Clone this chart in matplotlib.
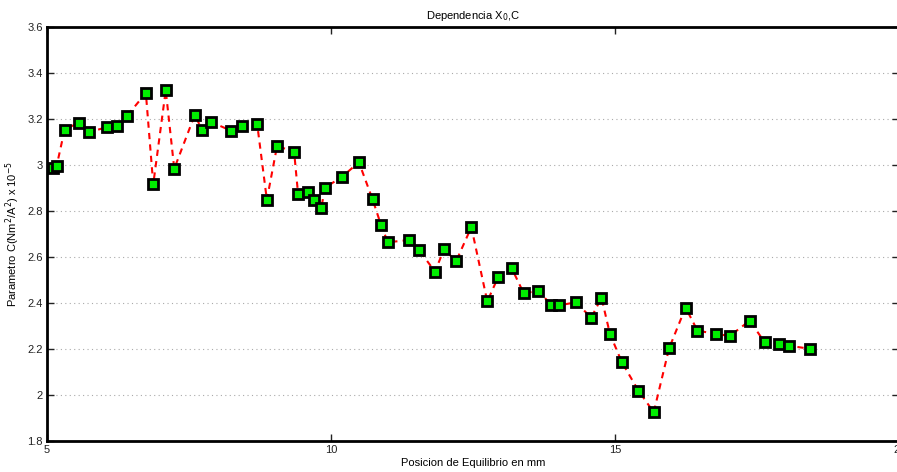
import numpy as np
import matplotlib
matplotlib.use("Agg")
import matplotlib.pyplot as plt

plt.rcParams['font.family'] = ['Liberation Sans', 'DejaVu Sans']

# Equilibrium position (mm) and fitted C parameter (x 1e-5)
posicion = [5.11, 5.17, 5.31, 5.56, 5.74, 6.05, 6.24, 6.41, 6.74, 6.87,
            7.09, 7.24, 7.60, 7.73, 7.89, 8.24, 8.44, 8.70, 8.87, 9.05,
            9.35, 9.42, 9.60, 9.70, 9.83, 9.89, 10.19, 10.49, 10.73, 10.88,
            11.00, 11.38, 11.55, 11.83, 11.99, 12.20, 12.47, 12.75, 12.94, 13.18,
            13.39, 13.65, 13.88, 14.02, 14.31, 14.58, 14.76, 14.91, 15.12, 15.41,
            15.68, 15.95, 16.24, 16.45, 16.78, 17.02, 17.37, 17.63, 17.88, 18.06,
            18.43]
parametro_c = [2.988, 2.996, 3.154, 3.184, 3.143, 3.164, 3.171, 3.214, 3.313, 2.916,
               3.325, 2.984, 3.217, 3.154, 3.187, 3.149, 3.171, 3.177, 2.849, 3.083,
               3.057, 2.873, 2.881, 2.847, 2.814, 2.901, 2.948, 3.012, 2.851, 2.739,
               2.664, 2.674, 2.630, 2.536, 2.635, 2.581, 2.730, 2.407, 2.512, 2.551,
               2.443, 2.452, 2.391, 2.390, 2.403, 2.336, 2.423, 2.265, 2.142, 2.019,
               1.925, 2.203, 2.380, 2.280, 2.265, 2.257, 2.323, 2.230, 2.222, 2.214,
               2.201]

x_ticks = [5, 10, 15, 20]
y_ticks = [1.8, 2.0, 2.2, 2.4, 2.6, 2.8, 3.0, 3.2, 3.4, 3.6]
y_ticklabels = ['1.8', '2', '2.2', '2.4', '2.6', '2.8', '3', '3.2', '3.4', '3.6']

fig = plt.figure(figsize=(8.97, 4.72), dpi=100)
# axes run slightly past the right edge, as in the exported figure
ax = fig.add_axes([0.0524, 0.0657, 0.9500, 0.8771])

ax.plot(posicion, parametro_c, linestyle='--', color='red', linewidth=1.5,
        dashes=(3, 2.5), marker='s', markersize=7, markerfacecolor='#00ee00',
        markeredgecolor='black', markeredgewidth=2, zorder=3)

ax.set_xlim(5, 20)
ax.set_ylim(1.8, 3.6)
ax.set_xticks(x_ticks)
ax.set_yticks(y_ticks)
ax.set_yticklabels(y_ticklabels)
ax.yaxis.grid(True, linestyle=(0, (1, 3)), color='#aaaaaa', linewidth=0.8)

ax.tick_params(direction='in', top=True, right=True, labelsize=8, length=5,
               width=1, colors='#222222', pad=3)
for spine in ax.spines.values():
    spine.set_linewidth(2)
    spine.set_color('black')

ax.set_title('Dependencia X$_0$,C', fontsize=8, pad=6)
ax.set_xlabel('Posicion de Equilibrio en mm', fontsize=8, labelpad=2)
ax.set_ylabel('Parametro C(Nm$^2$/A$^2$) x 10$^{-5}$', fontsize=8, labelpad=4)

fig.savefig('out.png', dpi=100)
